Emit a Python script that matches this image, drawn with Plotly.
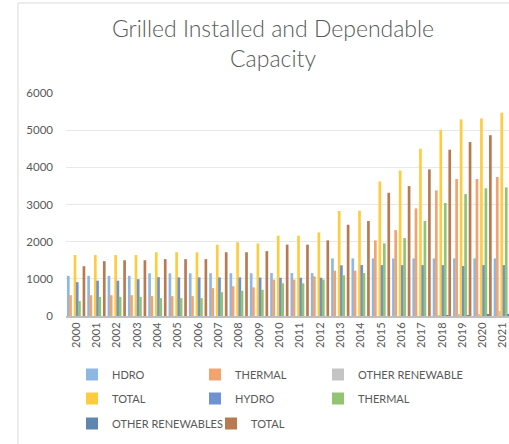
import plotly.graph_objects as go

years = [str(y) for y in range(2000, 2022)]

hdro = [1080, 1080, 1080, 1080, 1150, 1150, 1150, 1150, 1150, 1150, 1155,
        1155, 1155, 1550, 1550, 1550, 1550, 1550, 1550, 1550, 1550, 1550]
thermal_1 = [560, 560, 560, 560, 535, 535, 535, 750, 800, 770, 980,
             980, 1065, 1220, 1220, 2035, 2310, 2895, 3380, 3685, 3685, 3740]
other_renewable = [0, 0, 0, 0, 0, 0, 0, 0, 0, 0, 0,
                   0, 0, 0, 0, 0, 0, 0, 20, 30, 30, 130]
total_1 = [1640, 1640, 1640, 1640, 1715, 1715, 1715, 1920, 1985, 1950, 2160,
           2160, 2250, 2825, 2835, 3620, 3915, 4500, 5010, 5290, 5315, 5470]
hydro = [910, 950, 950, 990, 1045, 1040, 1040, 1040, 1040, 1035, 1030,
         1030, 1030, 1365, 1370, 1370, 1370, 1370, 1370, 1345, 1370, 1370]
thermal_2 = [400, 515, 515, 515, 480, 480, 480, 640, 680, 705, 880,
             880, 980, 1095, 1155, 1955, 2095, 2555, 3040, 3280, 3435, 3460]
other_renewables = [0, 0, 0, 0, 0, 0, 0, 0, 0, 0, 0,
                    0, 0, 0, 0, 0, 0, 0, 10, 20, 45, 45]
total_2 = [1340, 1475, 1500, 1500, 1530, 1530, 1530, 1715, 1715, 1745, 1920,
           1920, 2035, 2455, 2555, 3315, 3495, 3945, 4475, 4680, 4865, 5000]

series_names = ["HDRO", "THERMAL", "OTHER RENEWABLE", "TOTAL",
                "HYDRO", "THERMAL", "OTHER RENEWABLES", "TOTAL"]
series_values = [hdro, thermal_1, other_renewable, total_1,
                 hydro, thermal_2, other_renewables, total_2]
series_colors = ["#8DB8E4", "#F3A46E", "#C4C4C4", "#FFCC3E",
                 "#6F93D2", "#93C473", "#5F86B0", "#B87A50"]

W, H = 509, 444
ml, mr, mt, mb = 66, 0, 93, 128
pw, ph = W - ml - mr, H - mt - mb

FONT = "Lato, Open Sans, sans-serif"
GREY = "#595959"

# legend entry placement (left px, top px) – 3 columns x 3 rows
legend_pos = [(72, 360), (195, 360), (318, 360),
              (72, 384), (195, 384), (318, 384),
              (72, 409), (211, 409)]

fig = go.Figure()
bar_w = 0.132
step = 0.11
start = -0.453
legends = {}
for i, (name, vals, col) in enumerate(zip(series_names, series_values, series_colors)):
    key = "legend" if i == 0 else "legend%d" % (i + 1)
    fig.add_trace(go.Bar(
        name=name, x=years, y=vals,
        marker=dict(color=col, line=dict(width=0)),
        width=bar_w, offset=start + i * step,
        legend=key,
    ))
    lx, ly = legend_pos[i]
    legends[key] = dict(
        orientation="h", xref="container", yref="container",
        x=lx / W, xanchor="left", y=1 - ly / H, yanchor="top",
        font=dict(size=11, color=GREY, family=FONT),
        itemwidth=30, bgcolor="rgba(0,0,0,0)",
    )

fig.update_layout(
    width=W, height=H,
    margin=dict(l=ml, r=mr, t=mt, b=mb),
    paper_bgcolor="white", plot_bgcolor="white",
    barmode="overlay",
    font=dict(family=FONT, color=GREY, size=11),
    title=dict(
        text="Grilled Installed and Dependable<br>Capacity",
        x=273 / W, xanchor="center", xref="container",
        y=1 - 37 / H, yanchor="top", yref="container",
        font=dict(size=23, color=GREY, family=FONT, weight=300),
    ),
    xaxis=dict(
        type="category", range=[-0.5, 21.3], automargin=False,
        tickangle=-90, showgrid=False,
        showline=True, linecolor="#BFBFBF", linewidth=2,
        ticks="", tickfont=dict(size=11, color=GREY),
    ),
    yaxis=dict(
        range=[0, 6000], dtick=1000, showgrid=True, gridcolor="#E8E8E8",
        zeroline=False, showline=False, ticks="", automargin=False,
        tickfont=dict(size=11.5, color=GREY), ticklabelstandoff=12,
    ),
    showlegend=True,
    **legends,
)

# chart border lines (left and top)
fig.add_shape(type="line", xref="paper", yref="paper",
              x0=(18 - ml) / pw, x1=(18 - ml) / pw,
              y0=(mt + ph - 3) / ph, y1=-(H - mt - ph) / ph,
              line=dict(color="#D9D9D9", width=1))
fig.add_shape(type="line", xref="paper", yref="paper",
              x0=(18 - ml) / pw, x1=1.0,
              y0=(mt + ph - 3) / ph, y1=(mt + ph - 3) / ph,
              line=dict(color="#D9D9D9", width=1))

fig.write_html(
    "out.html",
    config={"displayModeBar": False},
    post_script="document.body.style.margin='0';document.body.style.overflow='hidden';",
)
